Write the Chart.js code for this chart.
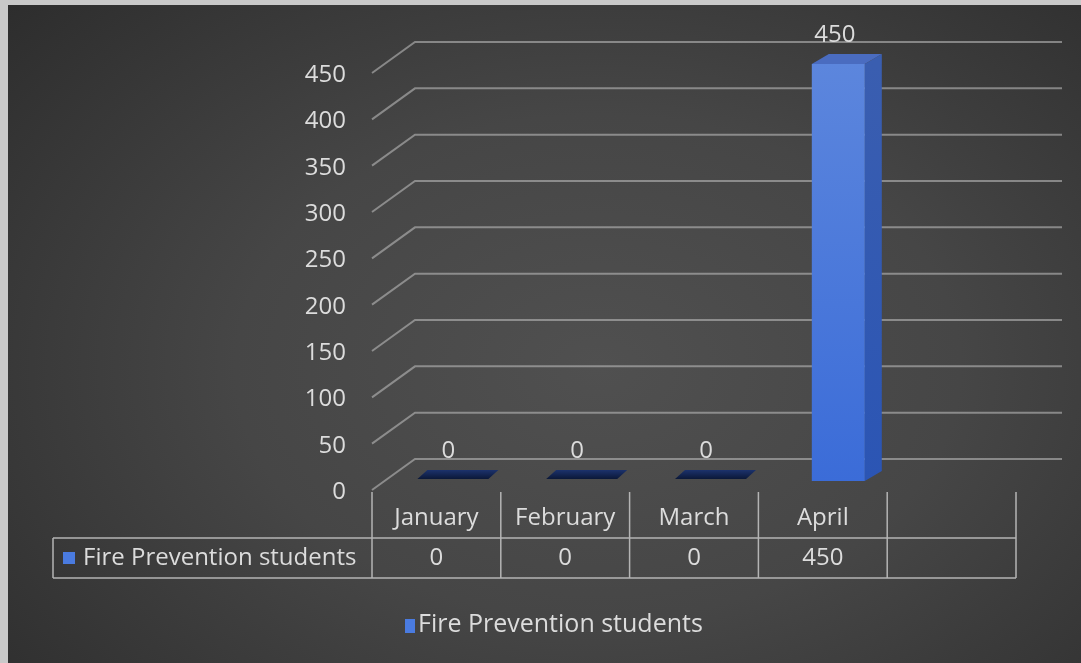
<!DOCTYPE html>
<html>
<head>
<meta charset="utf-8">
<script src="https://cdn.jsdelivr.net/npm/chart.js@4"></script>
<style>
  html, body { margin: 0; padding: 0; width: 1081px; height: 663px; overflow: hidden; background: #c9c9c9; }
  #panel {
    position: absolute; left: 8px; top: 5px; width: 1073px; height: 658px;
    background: radial-gradient(ellipse 75% 85% at 55% 55%, #505050 0%, #464646 45%, #2c2c2c 100%);
  }
  #chart { position: absolute; left: 0; top: 0; }
</style>
</head>
<body>
<div id="panel"></div>
<canvas id="chart" width="1081" height="663"></canvas>
<script>
// ── Data ──────────────────────────────────────────────────────────────────────
const categories  = ["January", "February", "March", "April"];
const students    = [0, 0, 0, 450];
const seriesName  = "Fire Prevention students";
const yTicks      = { min: 0, max: 450, step: 50 };
// the data table in the original has one trailing empty column
const labels = [...categories, ""];
const values = [...students, null];

// ── Look ──────────────────────────────────────────────────────────────────────
const FONT  = '"Open Sans", "Segoe UI", sans-serif';
const SIZE  = 24;
const TEXT  = "#dcdcdc";
const GRID  = "rgba(185,185,185,0.6)";
const LINE  = "#b4b4b4";
const WALL  = { dx: 43, dy: -31, overhang: 46 };          // back wall offset
const BAR   = { left: -11, right: 42, lift: -9, dx: 17, dy: -10 };
const SLAB  = { left: -19, right: 52, lift: -11, dx: 10, dy: -9 };  // zero-height bars

function font(size) { return `${size}px ${FONT}`; }

// ── 3D-ish drawing plugin ─────────────────────────────────────────────────────
const threeD = {
  id: "threeD",

  // back wall grid: short diagonal from the axis, then horizontal along the wall
  beforeDatasetsDraw(chart) {
    const { ctx, scales: { x, y } } = chart;
    ctx.save();
    ctx.strokeStyle = GRID;
    ctx.lineWidth = 2;
    y.ticks.forEach(t => {
      const py = y.getPixelForValue(t.value);
      ctx.beginPath();
      ctx.moveTo(x.left, py);
      ctx.lineTo(x.left + WALL.dx, py + WALL.dy);
      ctx.lineTo(x.right + WALL.overhang, py + WALL.dy);
      ctx.stroke();
    });
    ctx.restore();
  },

  afterDatasetsDraw(chart) {
    const { ctx } = chart;
    const meta = chart.getDatasetMeta(0);
    ctx.save();
    meta.data.forEach((bar, i) => {
      const v = values[i];
      if (v == null) return;
      let labelY;

      if (bar.base - bar.y < 1) {
        // flat slab for a zero value
        const fl = bar.x + SLAB.left, fr = bar.x + SLAB.right;
        const fb = bar.base + SLAB.lift, dx = SLAB.dx, dy = SLAB.dy;
        const g = ctx.createLinearGradient(0, fb + dy, 0, fb);
        g.addColorStop(0, "#1c326c");
        g.addColorStop(1, "#0b1838");
        ctx.fillStyle = g;
        ctx.beginPath();
        ctx.moveTo(fl, fb); ctx.lineTo(fr, fb);
        ctx.lineTo(fr + dx, fb + dy); ctx.lineTo(fl + dx, fb + dy);
        ctx.closePath(); ctx.fill();
        labelY = fb + dy - 19;
      } else {
        const fl = bar.x + BAR.left, fr = bar.x + BAR.right;
        const fb = bar.base + BAR.lift, ft = bar.y + BAR.lift;
        const dx = BAR.dx, dy = BAR.dy;
        // side
        const gs = ctx.createLinearGradient(0, ft, 0, fb);
        gs.addColorStop(0, "#3a5eb0");
        gs.addColorStop(1, "#2b55b4");
        ctx.fillStyle = gs;
        ctx.beginPath();
        ctx.moveTo(fr, ft); ctx.lineTo(fr + dx, ft + dy);
        ctx.lineTo(fr + dx, fb + dy); ctx.lineTo(fr, fb);
        ctx.closePath(); ctx.fill();
        // top
        ctx.fillStyle = "#4a6cc0";
        ctx.beginPath();
        ctx.moveTo(fl, ft); ctx.lineTo(fl + dx, ft + dy);
        ctx.lineTo(fr + dx, ft + dy); ctx.lineTo(fr, ft);
        ctx.closePath(); ctx.fill();
        // front
        const gf = ctx.createLinearGradient(0, ft, 0, fb);
        gf.addColorStop(0, "#5c86dd");
        gf.addColorStop(1, "#3b6cd8");
        ctx.fillStyle = gf;
        ctx.fillRect(fl, ft, fr - fl, fb - ft);
        labelY = ft + dy - 19;
      }

      // value label
      ctx.fillStyle = TEXT;
      ctx.font = font(SIZE);
      ctx.textAlign = "center";
      ctx.textBaseline = "middle";
      ctx.fillText(String(v), bar.x + 12, labelY);
    });
    ctx.restore();
  },

  // data table + legend underneath
  afterDraw(chart) {
    const { ctx, scales: { x } } = chart;
    const n = labels.length;
    const colW = x.width / n;
    const edge = k => x.left + k * colW;
    const top = 492, mid = 538, bot = 578, tableLeft = 53;
    const color = chart.data.datasets[0].legendColor;

    ctx.save();
    ctx.strokeStyle = LINE;
    ctx.lineWidth = 1.5;
    ctx.beginPath();
    for (let k = 0; k <= n; k++) {
      ctx.moveTo(edge(k), top); ctx.lineTo(edge(k), bot);
    }
    ctx.moveTo(tableLeft, mid); ctx.lineTo(tableLeft, bot);
    ctx.moveTo(tableLeft, mid); ctx.lineTo(x.right, mid);
    ctx.moveTo(tableLeft, bot); ctx.lineTo(x.right, bot);
    ctx.stroke();

    ctx.fillStyle = TEXT;
    ctx.font = font(SIZE);
    ctx.textBaseline = "middle";
    ctx.textAlign = "center";
    labels.forEach((lab, k) => {
      const cx = edge(k) + colW / 2;
      ctx.fillText(lab, cx, 518);
      if (values[k] != null) ctx.fillText(String(values[k]), cx, 558);
    });

    // series name cell
    ctx.fillStyle = color;
    ctx.fillRect(63, 552, 12, 12);
    ctx.fillStyle = TEXT;
    ctx.textAlign = "left";
    ctx.fillText(seriesName, 83, 558);

    // bottom legend
    ctx.fillStyle = color;
    ctx.fillRect(405, 619, 10, 14);
    ctx.fillStyle = TEXT;
    ctx.font = font(25);
    ctx.fillText(seriesName, 418, 625);
    ctx.restore();
  }
};

// ── Chart ─────────────────────────────────────────────────────────────────────
new Chart(document.getElementById("chart"), {
  type: "bar",
  data: {
    labels,
    datasets: [{
      label: seriesName,
      data: values,
      backgroundColor: "rgba(0,0,0,0)",
      legendColor: "#4a7be0",
    }],
  },
  options: {
    responsive: false,
    devicePixelRatio: 1,
    animation: false,
    events: [],
    layout: { padding: { left: 272, right: 65, top: 73, bottom: 173 } },
    scales: {
      x: { display: false },
      y: {
        min: yTicks.min, max: yTicks.max,
        afterFit: s => { s.width = 100; },
        grid: { display: false, drawTicks: false },
        border: { display: false },
        ticks: { stepSize: yTicks.step, color: TEXT, padding: 26, labelOffset: 2,
                 font: { size: SIZE, family: FONT } },
      },
    },
    plugins: { legend: { display: false }, tooltip: { enabled: false } },
  },
  plugins: [threeD],
});
</script>
</body>
</html>
